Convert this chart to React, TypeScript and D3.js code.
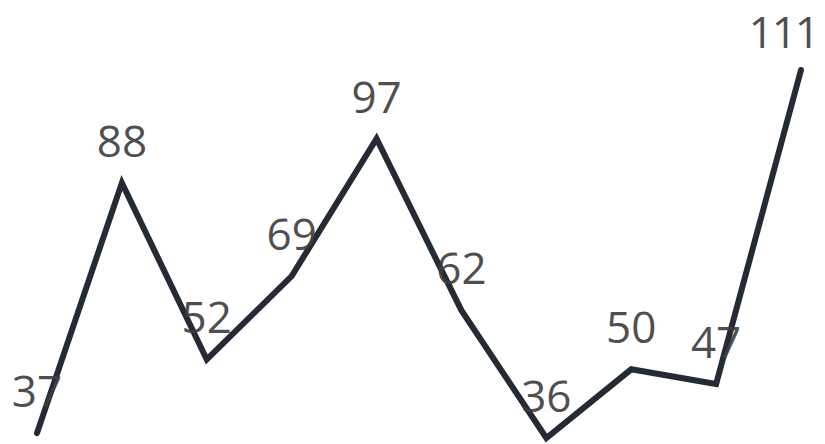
import React from "react";
import * as d3 from "d3";

const categories = ["1", "2", "3", "4", "5", "6", "7", "8", "9", "10"];
const values = [37, 88, 52, 69, 97, 62, 36, 50, 47, 111];

const W = 825;
const H = 444;
const FS = 44;

export default function App() {
  const x = d3.scalePoint<string>().domain(categories).range([37, 801]);
  const y = d3
    .scaleLinear()
    .domain([d3.min(values)!, d3.max(values)!])
    .range([438, 70]);
  const data = categories.map((c, i) => ({ c, v: values[i] }));
  const line = d3
    .line<{ c: string; v: number }>()
    .x((d) => x(d.c)!)
    .y((d) => y(d.v));
  const labelX = (d: { c: string; v: number }) => {
    const half = (String(d.v).length * 0.572 * FS) / 2;
    return Math.min(x(d.c)!, W - 4 - half);
  };
  const labelY = (d: { c: string; v: number }) =>
    Math.max(y(d.v) - 26, FS * 1.08);
  return (
    <svg
      width={W}
      height={H}
      style={{ position: "absolute", left: 0, top: 0, background: "#fff" }}
    >
      <path
        d={line(data) || ""}
        fill="none"
        stroke="#252b35"
        strokeWidth={6}
        strokeLinecap="round"
        strokeLinejoin="miter"
      />
      {data.map((d) => (
        <text
          key={d.c}
          x={labelX(d)}
          y={labelY(d)}
          textAnchor="middle"
          fontFamily="'Open Sans', sans-serif"
          fontSize={FS}
          letterSpacing={String(d.v).length > 2 ? -2 : 0}
          fill="#3d3d3d"
          fillOpacity={0.92}
        >
          {d.v}
        </text>
      ))}
    </svg>
  );
}
